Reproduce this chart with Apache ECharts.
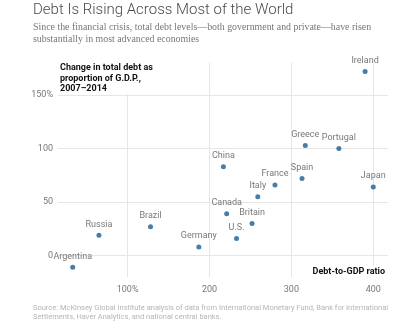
<!DOCTYPE html>
<html>
<head>
<meta charset="utf-8">
<script src="https://cdn.jsdelivr.net/npm/echarts@6/dist/echarts.min.js"></script>
<style>
  html, body { margin: 0; padding: 0; background: #fff; }
  #chart { width: 400px; height: 331px; }
</style>
</head>
<body>
<div id="chart"></div>
<script>
// Countries: debt-to-GDP ratio (%) vs. change in total debt as share of GDP, 2007–2014
var countries = ['Ireland', 'Greece', 'Portugal', 'China', 'Spain', 'France', 'Japan', 'Italy',
                 'Canada', 'Britain', 'U.S.', 'Germany', 'Brazil', 'Russia', 'Argentina'];
var debtRatio = [390, 317, 358, 217, 313, 280, 400, 259, 221, 252, 233, 187, 128, 65, 33];
var debtChange = [172, 103, 100, 83, 72, 66, 64, 55, 39, 30, 16, 8, 27, 19, -11];

var xTicks = [100, 200, 300, 400];
var yTicks = [0, 50, 100, 150];

var points = countries.map(function (name, i) {
  return { name: name, value: [debtRatio[i], debtChange[i]] };
});

var gridColor = '#e6e6e6';
var chart = echarts.init(document.getElementById('chart'), null, { renderer: 'canvas' });

chart.setOption({
  animation: false,
  backgroundColor: '#fff',
  textStyle: { fontFamily: 'Roboto, "Liberation Sans", sans-serif' },
  grid: { left: 58, right: 12, top: 63, bottom: 54, containLabel: false },
  xAxis: {
    type: 'value',
    min: 15,
    max: 418,
    axisLine: { show: false },
    axisTick: { show: false },
    splitLine: { show: false },
    axisLabel: {
      customValues: xTicks,
      margin: 8,
      color: '#777',
      fontSize: 9,
      formatter: function (v) { return v === 100 ? v + '%' : String(v); }
    }
  },
  yAxis: {
    type: 'value',
    min: -20,
    max: 180,
    axisLine: { show: false },
    axisTick: { show: false },
    splitLine: { show: false },
    axisLabel: {
      customValues: yTicks,
      margin: 5,
      color: '#777',
      fontSize: 9,
      formatter: function (v) { return v === 150 ? v + '%' : String(v); }
    }
  },
  series: [{
    type: 'scatter',
    data: points,
    symbolSize: 5,
    itemStyle: { color: '#1d5c90' },
    label: {
      show: true,
      position: 'top',
      distance: 4,
      formatter: '{b}',
      color: '#555',
      fontSize: 9
    },
    markLine: {
      silent: true,
      symbol: 'none',
      z: 1,
      label: { show: false },
      lineStyle: { color: gridColor, width: 1, type: 'solid' },
      data: xTicks.map(function (v) { return { xAxis: v }; })
        .concat(yTicks.map(function (v) { return { yAxis: v }; }))
    }
  }],
  graphic: [
    {
      type: 'text', left: 33, top: 3,
      style: { text: 'Debt Is Rising Across Most of the World', fill: '#4a4a4a',
               font: '300 15px Roboto, sans-serif' }
    },
    {
      type: 'text', left: 33, top: 22,
      style: {
        text: 'Since the financial crisis, total debt levels\u2014both government and private\u2014have risen\nsubstantially in most advanced economies',
        fill: '#777', font: '9.9px "Liberation Serif", serif', lineHeight: 11.5
      }
    },
    {
      type: 'rect', left: 56, top: 62, z: 50,
      shape: { width: 100, height: 32 },
      style: { fill: '#fff' }
    },
    {
      type: 'text', left: 60, top: 63, z: 51,
      style: {
        text: 'Change in total debt as\nproportion of G.D.P.,\n2007\u20132014',
        fill: '#111', font: 'bold 9px Roboto, sans-serif', lineHeight: 10.3
      }
    },
    {
      type: 'text', right: 13, top: 266, z: 51,
      style: {
        text: 'Debt-to-GDP ratio', fill: '#111', font: 'bold 9px Roboto, sans-serif',
        backgroundColor: '#fff', padding: [1, 2, 1, 2]
      }
    },
    {
      type: 'text', left: 33, top: 304,
      style: {
        text: 'Source: McKinsey Global Institute analysis of data from International Monetary Fund, Bank for International\nSettlements, Haver Analytics, and national central banks.',
        fill: '#b5b5b5', font: '7.5px Roboto, sans-serif', lineHeight: 8.8
      }
    }
  ]
});
</script>
</body>
</html>
